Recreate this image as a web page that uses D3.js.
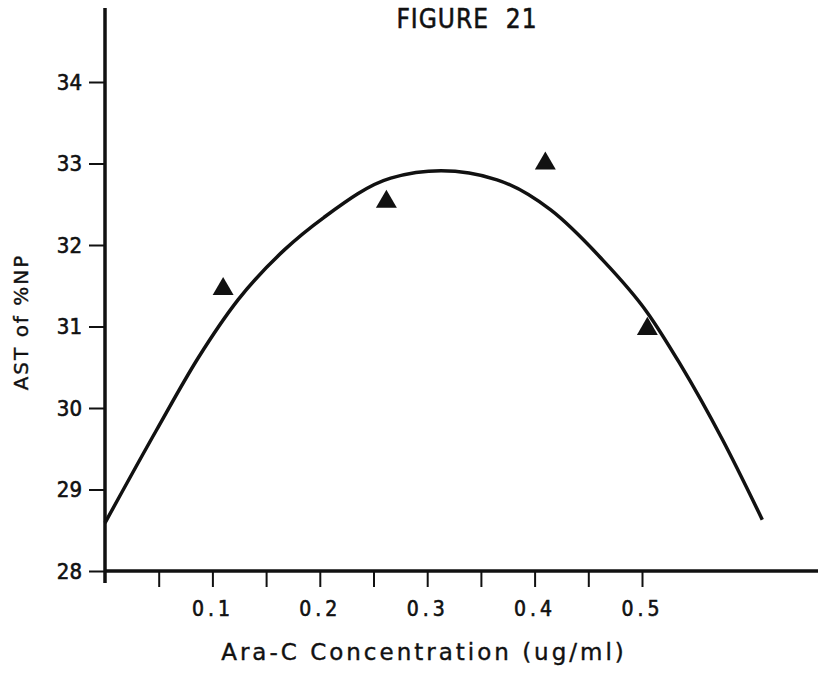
<!DOCTYPE html>
<html>
<head>
<meta charset="utf-8">
<script src="https://cdn.jsdelivr.net/npm/d3@7"></script>
<style>
  body { margin: 0; background: #fff; }
  svg { display: block; }
  .tick text { font-family: "DejaVu Sans Condensed", "DejaVu Sans", sans-serif; fill: #111; stroke: #111; stroke-width: 0.6px; }
</style>
</head>
<body>
<svg id="chart"></svg>
<script>
const width = 818;
const height = 677;

// measured points (triangles)
const pointX = [0.110, 0.262, 0.410, 0.505];
const pointY = [31.46, 32.53, 33.00, 30.97];

// fitted curve
const curveX = [0.000, 0.048, 0.087, 0.124, 0.167, 0.204, 0.266, 0.313, 0.365, 0.415, 0.461, 0.505, 0.535, 0.575, 0.612];
const curveY = [28.59, 29.73, 30.62, 31.33, 31.94, 32.34, 32.82, 32.91, 32.80, 32.43, 31.85, 31.17, 30.55, 29.61, 28.63];

const xTicks = [0.05, 0.1, 0.15, 0.2, 0.25, 0.3, 0.35, 0.4, 0.45, 0.5];
const yTicks = [28, 29, 30, 31, 32, 33, 34];

const svg = d3.select("#chart")
    .attr("width", width)
    .attr("height", height);

const x = d3.scaleLinear().domain([0, 0.5]).range([105, 642]);
const y = d3.scaleLinear().domain([28, 34]).range([571, 82]);

// axes
const xAxis = d3.axisBottom(x)
    .tickValues(xTicks)
    .tickSize(16)
    .tickPadding(14)
    .tickFormat(d => Math.round(d * 100) % 10 === 0 ? d.toFixed(1) : "");

const yAxis = d3.axisLeft(y)
    .tickValues(yTicks)
    .tickSize(16)
    .tickPadding(7)
    .tickFormat(d3.format("d"));

const gx = svg.append("g")
    .attr("transform", `translate(0,${y(28)})`)
    .call(xAxis);
gx.select(".domain").remove();
gx.selectAll(".tick line").attr("stroke", "#111").attr("stroke-width", 2);
gx.selectAll(".tick text")
    .attr("font-size", 21)
    .attr("letter-spacing", "4px");

const gy = svg.append("g")
    .attr("transform", `translate(${x(0)},0)`)
    .call(yAxis);
gy.select(".domain").remove();
gy.selectAll(".tick line").attr("stroke", "#111").attr("stroke-width", 2);
gy.selectAll(".tick text")
    .attr("font-size", 22);

// axis lines (x runs off the right edge, y up to the top)
svg.append("line")
    .attr("x1", x(0)).attr("x2", width)
    .attr("y1", y(28)).attr("y2", y(28))
    .attr("stroke", "#111").attr("stroke-width", 3.5);

svg.append("line")
    .attr("x1", x(0)).attr("x2", x(0))
    .attr("y1", y(28) + 12).attr("y2", 8)
    .attr("stroke", "#111").attr("stroke-width", 3.5);

// curve
const line = d3.line()
    .x(d => x(d[0]))
    .y(d => y(d[1]))
    .curve(d3.curveMonotoneX);

svg.append("path")
    .datum(d3.zip(curveX, curveY))
    .attr("d", line)
    .attr("fill", "none")
    .attr("stroke", "#111")
    .attr("stroke-width", 3.5);

// triangles
svg.selectAll(".pt")
    .data(d3.zip(pointX, pointY))
    .enter().append("path")
    .attr("class", "pt")
    .attr("transform", d => `translate(${x(d[0])},${y(d[1])})`)
    .attr("d", d3.symbol().type(d3.symbolTriangle).size(190))
    .attr("fill", "#111");

// labels
svg.append("text")
    .attr("x", 467).attr("y", 28)
    .attr("text-anchor", "middle")
    .attr("font-family", "DejaVu Sans Condensed, DejaVu Sans, sans-serif")
    .attr("font-size", 26)
    .attr("letter-spacing", "1px")
    .attr("fill", "#111")
    .attr("stroke", "#111").attr("stroke-width", 0.5)
    .attr("xml:space", "preserve")
    .text("FIGURE  21");

svg.append("text")
    .attr("x", 424).attr("y", 660)
    .attr("text-anchor", "middle")
    .attr("font-family", "DejaVu Sans, sans-serif")
    .attr("font-size", 23)
    .attr("letter-spacing", "3px")
    .attr("fill", "#111")
    .attr("stroke", "#111").attr("stroke-width", 0.4)
    .text("Ara-C Concentration (ug/ml)");

svg.append("text")
    .attr("transform", "translate(28,322) rotate(-90)")
    .attr("text-anchor", "middle")
    .attr("font-family", "DejaVu Sans, sans-serif")
    .attr("font-size", 20)
    .attr("letter-spacing", "2px")
    .attr("fill", "#111")
    .attr("stroke", "#111").attr("stroke-width", 0.4)
    .text("AST of %NP");
</script>
</body>
</html>
